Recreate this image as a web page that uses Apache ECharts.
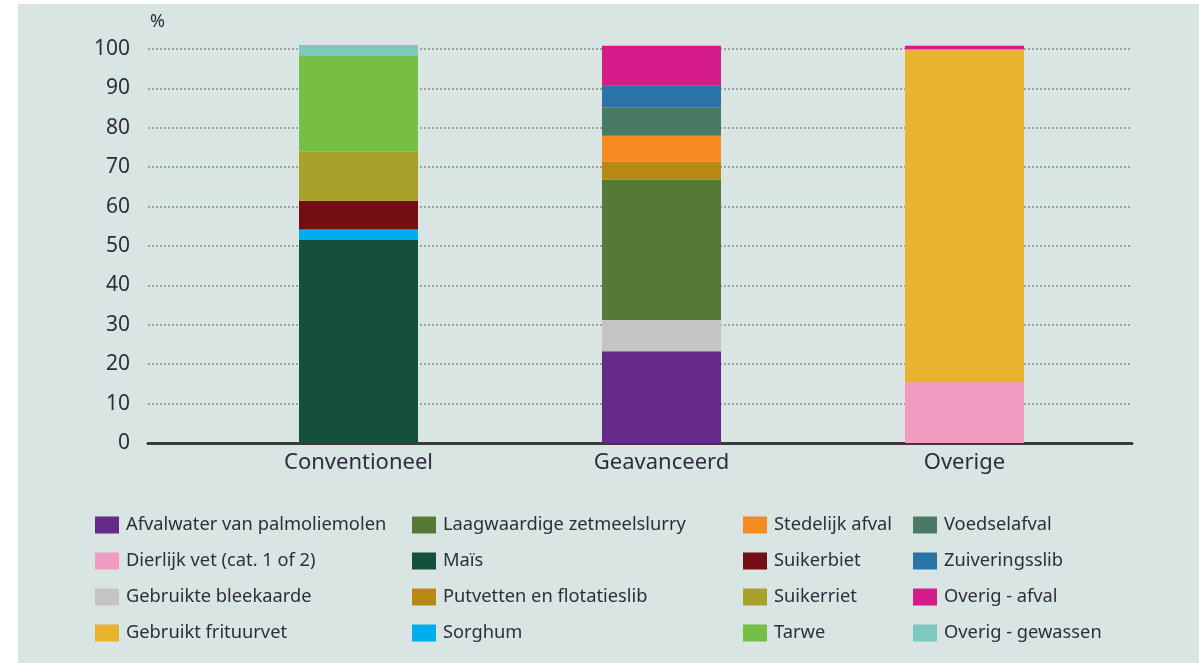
<!DOCTYPE html>
<html>
<head>
<meta charset="utf-8">
<script src="https://cdn.jsdelivr.net/npm/echarts@6/dist/echarts.min.js"></script>
<style>
html,body{margin:0;padding:0;background:#ffffff;}
#bg{position:absolute;left:18px;top:4px;right:0;bottom:0;background:#d9e5e2;}
#chart{position:absolute;left:0;top:0;width:1199px;height:663px;}
</style>
</head>
<body>
<div id="bg"></div>
<div id="chart"></div>
<script>
const categories = ['Conventioneel', 'Geavanceerd', 'Overige'];
const yTicks = [0, 10, 20, 30, 40, 50, 60, 70, 80, 90, 100];

const seriesNames = [
  'Afvalwater van palmoliemolen', 'Dierlijk vet (cat. 1 of 2)', 'Gebruikte bleekaarde', 'Gebruikt frituurvet',
  'Laagwaardige zetmeelslurry', 'Maïs', 'Putvetten en flotatieslib', 'Sorghum',
  'Stedelijk afval', 'Suikerbiet', 'Suikerriet', 'Tarwe',
  'Voedselafval', 'Zuiveringsslib', 'Overig - afval', 'Overig - gewassen'
];
const seriesColors = [
  '#662a8a', '#f19bc1', '#c4c4c4', '#e8b32d',
  '#567a36', '#14503c', '#b98814', '#00adef',
  '#f48a20', '#730f12', '#a9a22a', '#77bf44',
  '#4a7a66', '#2a73a5', '#d61c8a', '#7ec9be'
];

// values per category: [Conventioneel, Geavanceerd, Overige]
const afvalwater     = [null, 23.3, null];
const dierlijkVet    = [null, null, 15.4];
const bleekaarde     = [null, 7.9, null];
const frituurvet     = [null, null, 84.2];
const zetmeelslurry  = [null, 35.6, null];
const mais           = [51.5, null, null];
const putvetten      = [null, 4.6, null];
const sorghum        = [2.7, null, null];
const stedelijk      = [null, 6.6, 0.4];
const suikerbiet     = [7.3, null, null];
const suikerriet     = [12.4, null, null];
const tarwe          = [24.5, null, null];
const voedselafval   = [null, 7.2, null];
const zuiveringsslib = [null, 5.5, null];
const overigAfval    = [null, 10.1, 0.8];
const overigGewassen = [2.6, null, null];

const seriesData = [
  afvalwater, dierlijkVet, bleekaarde, frituurvet,
  zetmeelslurry, mais, putvetten, sorghum,
  stedelijk, suikerbiet, suikerriet, tarwe,
  voedselafval, zuiveringsslib, overigAfval, overigGewassen
];

const FONT = 'Noto Sans';
const TXT = '#2e2e3a';

const chart = echarts.init(document.getElementById('chart'), null, {renderer: 'canvas'});

const series = seriesNames.map((n, i) => ({
  name: n,
  type: 'bar',
  stack: 'total',
  xAxisIndex: 1,
  yAxisIndex: 1,
  barWidth: 119,
  clip: false,
  itemStyle: {color: seriesColors[i]},
  data: seriesData[i]
}));

const legendCols = [95, 412, 743, 913];
const legends = legendCols.map((x, c) => ({
  orient: 'vertical',
  left: x,
  top: 516,
  padding: 0,
  itemWidth: 24,
  itemHeight: 17,
  itemGap: 18,
  icon: 'rect',
  selectedMode: false,
  textStyle: {fontFamily: FONT, fontSize: 18.3, color: TXT, lineHeight: 17, padding: [0, 0, 0, 2]},
  data: seriesNames.slice(c * 4, c * 4 + 4)
}));

chart.setOption({
  animation: false,
  backgroundColor: 'transparent',
  legend: legends,
  grid: [
    {left: 148, right: 67, top: 49, bottom: 220},
    {left: 207, right: 83, top: 49, bottom: 220}
  ],
  xAxis: [
    {
      gridIndex: 0, type: 'value', min: 0, max: 1, position: 'bottom',
      axisLine: {show: true, onZero: false, lineStyle: {color: '#3a3a3a', width: 3}},
      axisTick: {show: false}, axisLabel: {show: false}, splitLine: {show: false}
    },
    {
      gridIndex: 1, type: 'category', data: categories,
      axisLine: {show: false}, axisTick: {show: false},
      axisLabel: {fontFamily: FONT, fontSize: 22, color: TXT, margin: 9}
    }
  ],
  yAxis: [
    {
      gridIndex: 0, type: 'value', min: yTicks[0], max: yTicks[yTicks.length - 1], interval: 10,
      name: '%', nameLocation: 'end', nameGap: 18,
      nameTextStyle: {fontFamily: FONT, fontSize: 18, color: TXT, align: 'left', padding: [0, 0, 0, 2]},
      axisLine: {show: false}, axisTick: {show: false},
      axisLabel: {fontFamily: FONT, fontSize: 21, color: TXT, margin: 18},
      splitLine: {show: true, lineStyle: {color: '#8c8f8f', width: 1.5, type: [2, 2]}}
    },
    {
      gridIndex: 1, type: 'value', min: 0, max: 100, show: false, splitLine: {show: false}
    }
  ],
  series: series
});
</script>
</body>
</html>
